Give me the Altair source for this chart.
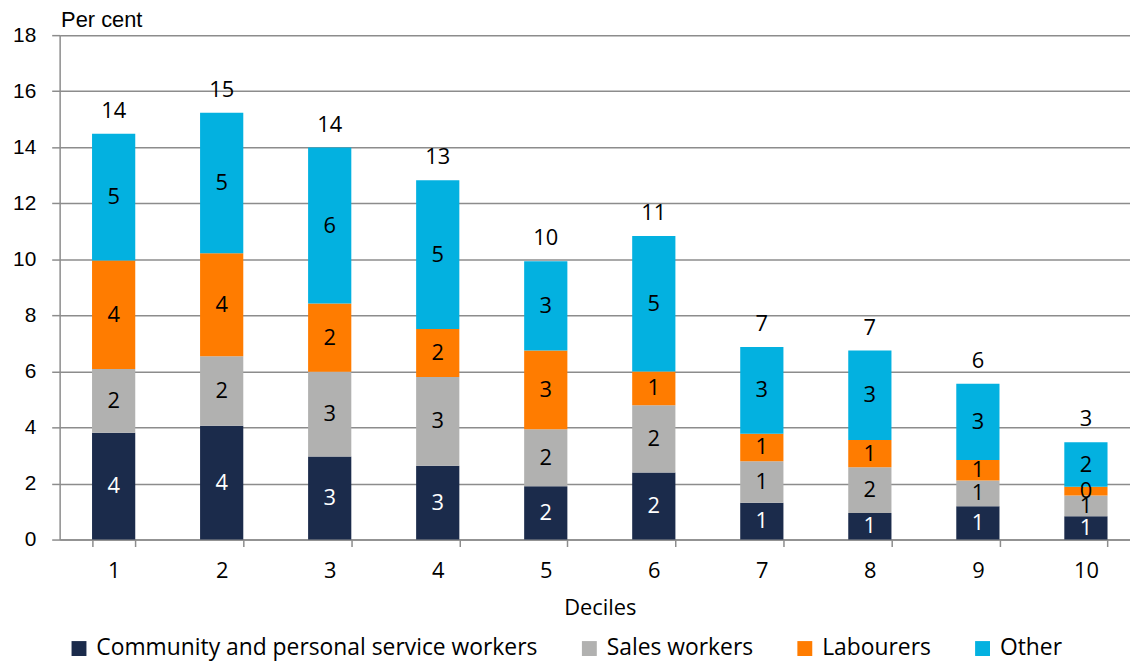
import altair as alt
import pandas as pd

deciles = ["1", "2", "3", "4", "5", "6", "7", "8", "9", "10"]
series = ["Community and personal service workers", "Sales workers", "Labourers", "Other"]
community = [3.81, 4.06, 2.96, 2.63, 1.90, 2.39, 1.31, 0.95, 1.19, 0.83]
sales = [2.28, 2.48, 3.03, 3.17, 2.04, 2.40, 1.48, 1.63, 0.92, 0.74]
labourers = [3.87, 3.68, 2.43, 1.71, 2.81, 1.21, 0.99, 0.97, 0.73, 0.31]
other = [4.52, 5.01, 5.57, 5.31, 3.18, 4.83, 3.09, 3.20, 2.72, 1.59]
colors = ["#1b2b4b", "#b1b1b0", "#ff7c00", "#03b1e0"]
label_colors = ["white", "black", "black", "black"]
y_ticks = [0, 2, 4, 6, 8, 10, 12, 14, 16, 18]

rows = []
for si, (name, vals) in enumerate(zip(series, [community, sales, labourers, other])):
    for d, v in zip(deciles, vals):
        rows.append({"decile": d, "series": name, "value": v, "order": si,
                     "label_color": label_colors[si]})
df = pd.DataFrame(rows)

GRID = "#8c8c8c"
x_enc = alt.X(
    "decile:N", sort=deciles,
    scale=alt.Scale(paddingInner=0.6, paddingOuter=0.3, range=[0, 1088]),
    axis=alt.Axis(
        title="Deciles", labelAngle=0, tickBand="extent", tickSize=7,
        tickColor=GRID, domainColor=GRID, domainWidth=1.5, tickWidth=1.5,
        labelFont="Open Sans", labelFontSize=22, labelColor="black",
        labelBaseline="middle", labelPadding=24,
        titleFont="Open Sans", titleFontSize=22, titleFontWeight="normal",
        titleColor="black", titleY=68, titleBaseline="middle",
    ),
)
y_scale = alt.Scale(domain=[0, 18], nice=False)

base = alt.Chart(df)

bars = base.mark_bar().encode(
    x=x_enc,
    y=alt.Y("value:Q", stack="zero", scale=y_scale, axis=alt.Axis(
        values=y_ticks, title="Per cent", titleAngle=0, titleAlign="left",
        titleX=1, titleY=-9, titleBaseline="alphabetic",
        titleFont="Liberation Sans", titleFontSize=22, titleFontWeight="normal",
        titleColor="black",
        grid=True, gridColor=GRID, gridWidth=1.5,
        domainColor=GRID, domainWidth=1.5, tickColor=GRID, tickWidth=1.5, tickSize=8,
        labelFont="Liberation Sans", labelFontSize=21, labelColor="black", labelPadding=16,
    )),
    color=alt.Color("series:N", scale=alt.Scale(domain=series, range=colors),
                    legend=alt.Legend(
                        orient="none", legendX=8, legendY=606, direction="horizontal",
                        columns=4, title=None, symbolType="square", symbolSize=225,
                        symbolStrokeWidth=0, labelFont="Open Sans", labelFontSize=23,
                        labelColor="black", columnPadding=40, labelOffset=6, labelLimit=0)),
    order=alt.Order("order:Q"),
)

seg_labels = base.transform_stack(
    stack="value", groupby=["decile"], sort=[alt.SortField("order")], as_=["y0", "y1"]
).transform_calculate(
    mid="(datum.y0 + datum.y1) / 2"
).mark_text(font="Open Sans", fontSize=22, baseline="middle").encode(
    x=alt.X("decile:N", sort=deciles),
    y=alt.Y("mid:Q", scale=y_scale),
    text=alt.Text("value:Q", format=".0f"),
    color=alt.Color("label_color:N", scale=None),
)

totals = base.transform_aggregate(
    total="sum(value)", groupby=["decile"]
).mark_text(font="Open Sans", fontSize=22, baseline="bottom", dy=-11, color="black").encode(
    x=alt.X("decile:N", sort=deciles),
    y=alt.Y("total:Q", scale=y_scale),
    text=alt.Text("total:Q", format=".0f"),
)

chart = alt.layer(bars, seg_labels, totals).properties(
    width=1078, height=508,
    autosize=alt.AutoSizeParams(type="none"),
    padding={"left": 52, "top": 25, "right": 0, "bottom": 125},
).configure_view(stroke=None)

chart.save("out.html", embed_options={"renderer": "svg", "actions": False})
